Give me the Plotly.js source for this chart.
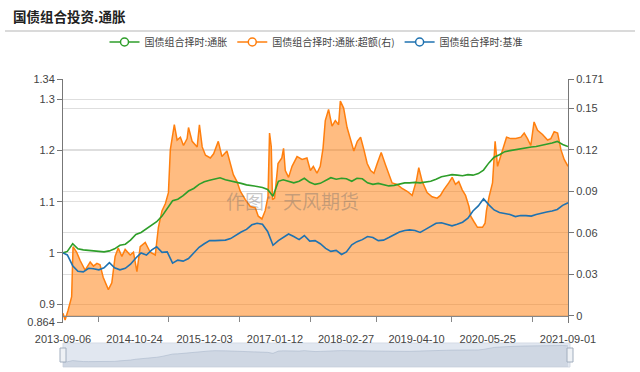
<!DOCTYPE html>
<html>
<head>
<meta charset="utf-8">
<script src="https://cdn.plot.ly/plotly-3.0.1.min.js"></script>
<style>html,body{margin:0;padding:0;background:#fff;}#chart{width:640px;height:372px;}</style>
</head>
<body>
<div id="chart"></div>
<script>
// ---------- data ----------
const seriesNames = ['国债组合择时:通胀', '国债组合择时:通胀:超额(右)', '国债组合择时:基准'];

const monthDates = [
'2013-09-06','2013-10-01','2013-11-01','2013-12-01',
'2014-01-01','2014-02-01','2014-03-01','2014-04-01','2014-05-01','2014-06-01','2014-07-01','2014-08-01','2014-09-01','2014-10-01','2014-11-01','2014-12-01',
'2015-01-01','2015-02-01','2015-03-01','2015-04-01','2015-05-01','2015-06-01','2015-07-01','2015-08-01','2015-09-01','2015-10-01','2015-11-01','2015-12-01',
'2016-01-01','2016-02-01','2016-03-01','2016-04-01','2016-05-01','2016-06-01','2016-07-01','2016-08-01','2016-09-01','2016-10-01','2016-11-01','2016-12-01',
'2017-01-01','2017-02-01','2017-03-01','2017-04-01','2017-05-01','2017-06-01','2017-07-01','2017-08-01','2017-09-01','2017-10-01','2017-11-01','2017-12-01',
'2018-01-01','2018-02-01','2018-03-01','2018-04-01','2018-05-01','2018-06-01','2018-07-01','2018-08-01','2018-09-01','2018-10-01','2018-11-01','2018-12-01',
'2019-01-01','2019-02-01','2019-03-01','2019-04-01','2019-05-01','2019-06-01','2019-07-01','2019-08-01','2019-09-01','2019-10-01','2019-11-01','2019-12-01',
'2020-01-01','2020-02-01','2020-03-01','2020-04-01','2020-05-01','2020-06-01','2020-07-01','2020-08-01','2020-09-01','2020-10-01','2020-11-01','2020-12-01',
'2021-01-01','2021-02-01','2021-03-01','2021-04-01','2021-05-01','2021-06-01','2021-07-01','2021-08-01','2021-09-01'];

const inflationValues = [
1.000,1.003,1.018,1.008,
1.006,1.005,1.004,1.003,1.002,1.004,1.008,1.015,1.017,1.025,1.036,1.040,
1.047,1.054,1.061,1.072,1.088,1.102,1.105,1.112,1.121,1.126,1.134,1.139,
1.142,1.145,1.147,1.143,1.141,1.138,1.136,1.133,1.132,1.130,1.128,1.124,
1.111,1.140,1.143,1.140,1.137,1.140,1.146,1.138,1.134,1.136,1.141,1.147,
1.144,1.146,1.145,1.140,1.146,1.145,1.137,1.134,1.136,1.133,1.131,1.132,
1.134,1.137,1.137,1.138,1.137,1.138,1.140,1.144,1.149,1.151,1.153,1.152,
1.151,1.153,1.152,1.155,1.162,1.176,1.187,1.192,1.198,1.200,1.202,1.204,
1.206,1.207,1.208,1.210,1.212,1.215,1.218,1.212,1.208];

const benchmarkValues = [
1.000,0.996,0.975,0.964,
0.963,0.970,0.969,0.967,0.971,0.981,0.971,0.967,0.970,0.978,0.990,1.000,
0.996,1.006,1.012,1.001,1.002,0.980,0.986,0.984,0.989,1.000,1.011,1.018,
1.024,1.024,1.024,1.025,1.028,1.035,1.041,1.046,1.055,1.058,1.056,1.042,
1.015,1.024,1.030,1.037,1.032,1.026,1.034,1.023,1.024,1.018,1.009,1.003,
1.005,0.997,1.002,1.016,1.022,1.026,1.032,1.030,1.024,1.025,1.030,1.035,
1.041,1.044,1.045,1.044,1.040,1.046,1.052,1.058,1.059,1.056,1.053,1.056,
1.060,1.068,1.082,1.092,1.106,1.094,1.084,1.079,1.077,1.075,1.071,1.073,
1.073,1.072,1.075,1.078,1.080,1.082,1.085,1.093,1.098];

const excessDates = [
'2013-09-06','2013-09-18','2013-10-05','2013-10-26','2013-11-03','2013-11-24','2013-12-14',
'2014-01-12','2014-02-10','2014-03-01','2014-03-21','2014-04-08','2014-04-26','2014-05-26','2014-06-15','2014-07-04','2014-07-22','2014-08-12','2014-08-31','2014-09-29','2014-10-18','2014-11-07','2014-11-26','2014-12-25',
'2015-01-23','2015-02-21','2015-03-11','2015-04-01','2015-04-20','2015-05-08','2015-05-19','2015-05-29','2015-06-11','2015-06-27','2015-07-16','2015-08-03','2015-08-24','2015-09-01','2015-09-22','2015-10-21','2015-11-03','2015-11-19','2015-12-08',
'2016-01-05','2016-01-24','2016-02-20','2016-03-12','2016-04-10','2016-04-29','2016-05-17','2016-06-07','2016-06-26','2016-07-25','2016-08-23','2016-09-21','2016-10-08','2016-10-29','2016-11-17','2016-12-03','2016-12-12','2016-12-22','2016-12-29',
'2017-01-10','2017-01-30','2017-02-21','2017-03-03','2017-03-13','2017-04-01','2017-04-21','2017-05-20','2017-06-18','2017-07-16','2017-08-05','2017-08-22','2017-09-12','2017-10-01','2017-10-17','2017-10-30','2017-11-18','2017-12-08','2017-12-27',
'2018-01-15','2018-01-25','2018-02-13','2018-03-05','2018-03-25','2018-04-13','2018-05-03','2018-05-22','2018-06-10','2018-06-29','2018-07-19','2018-08-07','2018-08-26','2018-09-18','2018-10-13','2018-11-01','2018-11-20','2018-12-19',
'2019-01-17','2019-02-15','2019-03-16','2019-04-10','2019-04-23','2019-05-13','2019-06-10','2019-07-09','2019-08-07','2019-08-26','2019-09-14','2019-10-13','2019-11-02','2019-11-21','2019-12-10','2019-12-30',
'2020-01-18','2020-02-07','2020-02-17','2020-03-07','2020-03-27','2020-04-25','2020-05-10','2020-05-18','2020-06-02','2020-06-22','2020-07-07','2020-07-21','2020-08-09','2020-08-28','2020-09-11','2020-10-06','2020-11-04','2020-12-03','2020-12-22',
'2021-01-10','2021-01-29','2021-02-17','2021-03-09','2021-04-07','2021-05-06','2021-05-25','2021-06-13','2021-07-03','2021-07-22','2021-08-10','2021-09-01'];

const excessValues = [
0.002,-0.003,0.004,0.014,0.050,0.046,0.040,
0.033,0.039,0.036,0.038,0.037,0.028,0.019,0.024,0.043,0.049,0.043,0.048,0.044,0.046,0.032,0.050,0.053,
0.046,0.044,0.064,0.076,0.081,0.089,0.120,0.129,0.138,0.127,0.129,0.123,0.128,0.136,0.126,0.122,0.138,0.122,0.116,
0.114,0.117,0.126,0.115,0.119,0.110,0.102,0.097,0.090,0.084,0.079,0.078,0.072,0.070,0.076,0.086,0.132,0.122,0.084,
0.085,0.110,0.114,0.121,0.105,0.100,0.108,0.115,0.113,0.114,0.105,0.108,0.103,0.108,0.121,0.141,0.149,0.137,0.141,
0.138,0.155,0.150,0.136,0.128,0.119,0.126,0.129,0.120,0.110,0.105,0.103,0.110,0.118,0.109,0.103,0.096,0.095,
0.092,0.090,0.087,0.098,0.107,0.097,0.089,0.086,0.085,0.087,0.091,0.096,0.100,0.095,0.097,0.091,
0.087,0.079,0.072,0.068,0.064,0.064,0.067,0.076,0.086,0.096,0.126,0.108,0.116,0.123,0.129,0.128,0.128,0.129,0.132,
0.128,0.123,0.140,0.134,0.131,0.127,0.128,0.133,0.132,0.120,0.113,0.108];

const xTickLabels = ['2013-09-06','2014-10-24','2015-12-03','2017-01-12','2018-02-27','2019-04-10','2020-05-25','2021-09-01'];
const xMinorTicks = ['2014-03-28','2015-05-06','2016-06-20','2017-08-06','2018-08-20','2019-10-30','2021-02-10'];
const leftTicks = [0.864, 0.9, 1, 1.1, 1.2, 1.3, 1.34];
const leftTickText = ['0.864','0.9','1','1.1','1.2','1.3','1.34'];
const rightTicks = [0, 0.03, 0.06, 0.09, 0.12, 0.15, 0.171];
const rightTickText = ['0','0.03','0.06','0.09','0.12','0.15','0.171'];

// ---------- styling ----------
const FONT = '"Noto Sans CJK SC", "Noto Sans", sans-serif';
const NUMFONT = '"Liberation Sans", Arial, sans-serif';
const C_GREEN = '#2e9e2a', C_ORANGE = '#ff7f0e', C_BLUE = '#1f72b0';
const START = '2013-09-06', END = '2021-09-01';
const H = 288; // plot area height (t=79..367)
const py = y => (367 - y) / H;        // pixel y -> paper
const px = x => (x - 63) / 505;       // pixel x -> paper

const traces = [
  {x: excessDates, y: excessValues, xaxis: 'x', yaxis: 'y', mode: 'lines', name: seriesNames[1],
   line: {color: C_ORANGE, width: 1.5}, fill: 'tozeroy', fillcolor: 'rgba(255,127,14,0.52)', showlegend: false, hoverinfo: 'skip'},
  {x: monthDates, y: inflationValues, xaxis: 'x', yaxis: 'y2', mode: 'lines', name: seriesNames[0],
   line: {color: C_GREEN, width: 1.6}, showlegend: false, hoverinfo: 'skip'},
  {x: monthDates, y: benchmarkValues, xaxis: 'x', yaxis: 'y2', mode: 'lines', name: seriesNames[2],
   line: {color: C_BLUE, width: 1.6}, showlegend: false, hoverinfo: 'skip'},
  // data-zoom preview
  {x: monthDates, y: inflationValues, xaxis: 'x2', yaxis: 'y3', mode: 'lines', showlegend: false, hoverinfo: 'skip',
   line: {color: 'rgba(160,174,196,0.6)', width: 0.8}, fill: 'tozeroy', fillcolor: 'rgba(165,178,200,0.3)'},
  // legend entries
  {x: [null], y: [null], xaxis: 'x', yaxis: 'y', mode: 'lines+markers', name: seriesNames[0],
   line: {color: C_GREEN, width: 1.5}, marker: {symbol: 'circle', size: 8, color: '#fff', line: {color: C_GREEN, width: 1.5}}},
  {x: [null], y: [null], xaxis: 'x', yaxis: 'y', mode: 'lines+markers', name: seriesNames[1],
   line: {color: C_ORANGE, width: 1.5}, marker: {symbol: 'circle', size: 8, color: '#fff', line: {color: C_ORANGE, width: 1.5}}},
  {x: [null], y: [null], xaxis: 'x', yaxis: 'y', mode: 'lines+markers', name: seriesNames[2],
   line: {color: C_BLUE, width: 1.5}, marker: {symbol: 'circle', size: 8, color: '#fff', line: {color: C_BLUE, width: 1.5}}}
];

const yCommon = {
  showline: true, linecolor: '#777', linewidth: 1, ticks: 'outside', ticklen: 5, tickcolor: '#777',
  showgrid: true, gridcolor: '#dedede', gridwidth: 1, zeroline: false, tickmode: 'array',
  tickfont: {size: 11, color: '#444', family: NUMFONT}, fixedrange: true
};

const layout = {
  width: 640, height: 372,
  margin: {l: 63, r: 72, t: 79, b: 5, pad: 0},
  paper_bgcolor: '#ffffff', plot_bgcolor: 'rgba(0,0,0,0)',
  font: {family: FONT, size: 11, color: '#444'},
  title: {text: '国债组合投资.通胀', x: 13 / 640, xref: 'container', xanchor: 'left',
          y: 1 - 17 / 372, yref: 'container', yanchor: 'middle',
          font: {size: 13.5, color: '#222', family: FONT, weight: 'bold'}},
  showlegend: true,
  legend: {orientation: 'h', x: px(316), xanchor: 'center', y: py(42), yanchor: 'middle',
           font: {size: 10, color: '#444', family: FONT}, itemwidth: 30, bgcolor: 'rgba(0,0,0,0)', traceorder: 'normal'},
  xaxis: {type: 'date', range: [START, END], domain: [0, 1], anchor: 'free', position: py(316),
          showline: true, linecolor: '#888', linewidth: 1, showgrid: false, zeroline: false,
          tickmode: 'array', tickvals: xTickLabels, ticktext: xTickLabels, ticks: '',
          tickfont: {size: 11, color: '#444', family: NUMFONT}, ticklabelstandoff: 13,
          minor: {tickmode: 'array', tickvals: xMinorTicks, ticks: 'outside', ticklen: 5, tickcolor: '#888', showgrid: false},
          fixedrange: true},
  yaxis: Object.assign({}, yCommon, {side: 'right', anchor: 'x', domain: [py(322.5), 1],
          range: [-0.0047, 0.171], tickvals: rightTicks, ticktext: rightTickText}),
  yaxis2: Object.assign({}, yCommon, {side: 'left', anchor: 'x', overlaying: 'y',
          range: [0.864, 1.34], tickvals: leftTicks, ticktext: leftTickText}),
  xaxis2: {type: 'date', range: [START, END], domain: [0, 1], anchor: 'y3', visible: false, fixedrange: true},
  yaxis3: {domain: [0, py(343)], range: [0.936, 1.244], anchor: 'x2', visible: false, fixedrange: true},
  shapes: [
    {type: 'line', xref: 'paper', yref: 'paper', x0: px(5), x1: px(635), y0: py(31), y1: py(31),
     line: {color: '#b5b5b5', width: 1}},
    {type: 'rect', xref: 'paper', yref: 'paper', x0: 0, x1: px(570), y0: 0, y1: py(343),
     fillcolor: '#e1e7f0', line: {color: '#d5dbe5', width: 1}, layer: 'below'},
    {type: 'rect', xref: 'paper', yref: 'paper', x0: px(60), x1: px(66), y0: py(362), y1: py(348),
     fillcolor: '#eef1f5', line: {color: '#a2aebe', width: 1}},
    {type: 'rect', xref: 'paper', yref: 'paper', x0: px(567), x1: px(573), y0: py(362), y1: py(348),
     fillcolor: '#eef1f5', line: {color: '#a2aebe', width: 1}}
  ],
  annotations: [
    {text: '作图：天风期货', xref: 'paper', yref: 'paper', x: px(292), y: py(200), showarrow: false,
     font: {size: 19, color: 'rgba(105,105,105,0.38)', family: FONT}}
  ]
};

Plotly.newPlot('chart', traces, layout, {displayModeBar: false, staticPlot: true});
</script>
</body>
</html>
